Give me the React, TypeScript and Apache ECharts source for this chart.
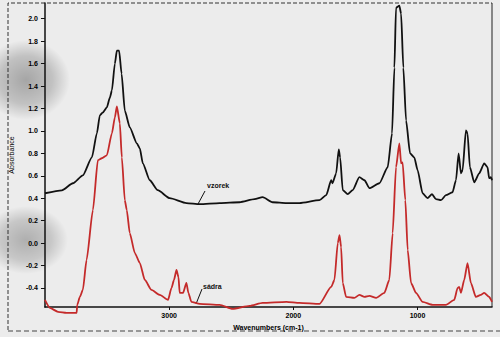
import React, { useEffect, useRef } from "react";
import * as echarts from "echarts";

// Sample ("vzorek") spectrum — wavenumber (cm-1) and absorbance
const sampleWavenumbers = [
  4000, 3863, 3775, 3695, 3622, 3582, 3558, 3534, 3502, 3477, 3461, 3437, 3421, 3403, 3383,
  3357, 3317, 3260, 3236, 3212, 3156, 3092, 2995, 2861, 2754, 2593, 2432, 2312, 2247, 2167,
  2055, 1950, 1789, 1735, 1695, 1685, 1655, 1634, 1623, 1602, 1562, 1522, 1468, 1427, 1387,
  1307, 1240, 1205, 1186, 1173, 1146, 1132, 1114, 1092, 1060, 1026, 999, 959, 919, 883, 851,
  811, 771, 718, 690, 669, 650, 637, 610, 597, 578, 543, 503, 463, 436, 423, 409, 400,
];
const sampleAbsorbance = [
  0.444, 0.47, 0.533, 0.604, 0.764, 0.978, 1.138, 1.164, 1.209, 1.298, 1.36, 1.6, 1.716, 1.716,
  1.511, 1.18, 1.031, 0.889, 0.844, 0.711, 0.56, 0.471, 0.4, 0.356, 0.347, 0.356, 0.364, 0.391,
  0.409, 0.364, 0.356, 0.356, 0.382, 0.427, 0.56, 0.533, 0.622, 0.836, 0.764, 0.471, 0.436,
  0.471, 0.587, 0.56, 0.489, 0.533, 0.676, 0.978, 1.564, 2.098, 2.116, 2.044, 1.564, 1.093,
  0.8, 0.764, 0.649, 0.444, 0.4, 0.436, 0.391, 0.382, 0.427, 0.453, 0.56, 0.8, 0.622, 0.649,
  1.004, 0.978, 0.676, 0.542, 0.622, 0.711, 0.676, 0.578, 0.587, 0.56,
];

// Gypsum ("sádra") reference spectrum
const gypsumWavenumbers = [
  4000, 3960, 3895, 3826, 3745, 3740, 3719, 3695, 3665, 3614, 3574, 3542, 3502, 3461, 3437,
  3421, 3397, 3381, 3357, 3341, 3317, 3276, 3236, 3196, 3142, 3075, 3009, 2981, 2961, 2941,
  2925, 2915, 2888, 2861, 2845, 2821, 2754, 2593, 2489, 2352, 2247, 2055, 1950, 1789, 1695,
  1669, 1642, 1628, 1615, 1602, 1575, 1508, 1468, 1427, 1387, 1333, 1267, 1227, 1200, 1173,
  1146, 1132, 1120, 1098, 1079, 1052, 1012, 959, 878, 771, 704, 677, 664, 650, 624, 597, 570,
  530, 490, 463, 423, 400,
];
const gypsumAbsorbance = [
  -0.507, -0.578, -0.613, -0.622, -0.622, -0.551, -0.48, -0.418, -0.151, 0.293, 0.738, 0.756,
  0.782, 0.978, 1.12, 1.218, 1.067, 0.764, 0.382, 0.293, 0.089, -0.089, -0.178, -0.329, -0.418,
  -0.462, -0.507, -0.4, -0.329, -0.24, -0.302, -0.444, -0.444, -0.356, -0.444, -0.524, -0.542,
  -0.551, -0.587, -0.56, -0.533, -0.524, -0.533, -0.542, -0.391, -0.329, 0.0, 0.071, -0.036,
  -0.356, -0.48, -0.489, -0.462, -0.48, -0.471, -0.489, -0.444, -0.329, 0.089, 0.676, 0.889,
  0.711, 0.72, 0.382, -0.062, -0.356, -0.444, -0.524, -0.551, -0.551, -0.507, -0.4, -0.391,
  -0.444, -0.329, -0.178, -0.356, -0.48, -0.462, -0.444, -0.48, -0.524,
];

const xTicks = [1000, 2000, 3000];
const yTicks = [-0.4, -0.2, 0.0, 0.2, 0.4, 0.6, 0.8, 1.0, 1.2, 1.4, 1.6, 1.8, 2.0];

const FONT = "Liberation Sans, Arial, sans-serif";

export default function App() {
  const ref = useRef<HTMLDivElement>(null);
  useEffect(() => {
    if (!ref.current) return;
    const chart = echarts.init(ref.current, null, { renderer: "svg" });
    const zip = (xs: number[], ys: number[]) => xs.map((x, i) => [x, ys[i]]);
    const blob = (a: number) => ({
      type: "radial",
      x: 0.5,
      y: 0.5,
      r: 0.5,
      colorStops: [
        { offset: 0, color: `rgba(0,0,0,${a})` },
        { offset: 0.6, color: `rgba(0,0,0,${a * 0.6})` },
        { offset: 1, color: "rgba(0,0,0,0)" },
      ],
    });
    chart.setOption({
      animation: false,
      backgroundColor: "#ececec",
      grid: { left: 44, right: 8, top: 3, bottom: 30 },
      xAxis: {
        type: "value",
        inverse: true,
        min: 400,
        max: 4000,
        name: "Wavenumbers (cm-1)",
        nameLocation: "middle",
        nameGap: 15,
        nameTextStyle: { fontFamily: FONT, fontSize: 7, color: "#000", fontWeight: "bold" },
        axisLine: { onZero: false, lineStyle: { color: "#111", width: 1.5 } },
        axisTick: { show: true, length: 3, customValues: xTicks, lineStyle: { color: "#111" } },
        axisLabel: {
          customValues: xTicks,
          formatter: (v: number) => String(v),
          fontFamily: FONT,
          fontSize: 7,
          color: "#000",
          margin: 5,
          fontWeight: "bold",
        },
        splitLine: { show: false },
      },
      yAxis: {
        type: "value",
        min: -0.57,
        max: 2.14,
        name: "Absorbance",
        nameLocation: "middle",
        nameGap: 28,
        nameTextStyle: { fontFamily: FONT, fontSize: 7, color: "#000" },
        axisLine: { show: true, onZero: false, lineStyle: { color: "#111", width: 1.5 } },
        axisTick: { show: true, length: 4, customValues: yTicks, lineStyle: { color: "#111" } },
        axisLabel: {
          customValues: yTicks,
          formatter: (v: number) => v.toFixed(1),
          fontFamily: FONT,
          fontSize: 7,
          color: "#000",
          margin: 7,
          fontWeight: "bold",
        },
        splitLine: { show: false },
      },
      graphic: [
        {
          type: "ellipse",
          shape: { cx: 26, cy: 80, rx: 44, ry: 40 },
          style: { fill: blob(0.3) },
          z: -1,
        },
        {
          type: "ellipse",
          shape: { cx: 26, cy: 240, rx: 42, ry: 34 },
          style: { fill: blob(0.26) },
          z: -1,
        },
        {
          type: "polyline",
          shape: { points: [[8, 330], [8, 3], [492, 3]] },
          style: { stroke: "#333", lineWidth: 1, lineDash: [4, 2], fill: null },
        },
        {
          type: "line",
          shape: { x1: 8, y1: 331, x2: 500, y2: 331 },
          style: { stroke: "#444", lineWidth: 1, lineDash: [5, 3] },
        },
        {
          type: "line",
          shape: { x1: 492, y1: 3, x2: 492, y2: 307 },
          style: { stroke: "#222", lineWidth: 1 },
        },
        {
          type: "line",
          shape: { x1: 205, y1: 191, x2: 198, y2: 204 },
          style: { stroke: "#111", lineWidth: 1 },
        },
        {
          type: "text",
          x: 207,
          y: 182,
          style: { text: "vzorek", font: `bold 7px ${FONT}`, fill: "#111" },
        },
        {
          type: "line",
          shape: { x1: 202, y1: 289, x2: 196, y2: 304 },
          style: { stroke: "#111", lineWidth: 1 },
        },
        {
          type: "text",
          x: 203,
          y: 283,
          style: { text: "sádra", font: `bold 7px ${FONT}`, fill: "#111" },
        },
      ],
      series: [
        {
          name: "vzorek",
          type: "line",
          data: zip(sampleWavenumbers, sampleAbsorbance),
          showSymbol: false,
          smooth: 0.2,
          smoothMonotone: "x",
          clip: false,
          lineStyle: { color: "#111", width: 1.8 },
          itemStyle: { color: "#111" },
        },
        {
          name: "sádra",
          type: "line",
          data: zip(gypsumWavenumbers, gypsumAbsorbance),
          showSymbol: false,
          smooth: 0.2,
          smoothMonotone: "x",
          clip: false,
          lineStyle: { color: "#c42a2a", width: 1.8 },
          itemStyle: { color: "#c42a2a" },
        },
      ],
    });
    return () => chart.dispose();
  }, []);
  return <div ref={ref} style={{ width: 500, height: 337, position: "absolute", left: 0, top: 0 }} />;
}
